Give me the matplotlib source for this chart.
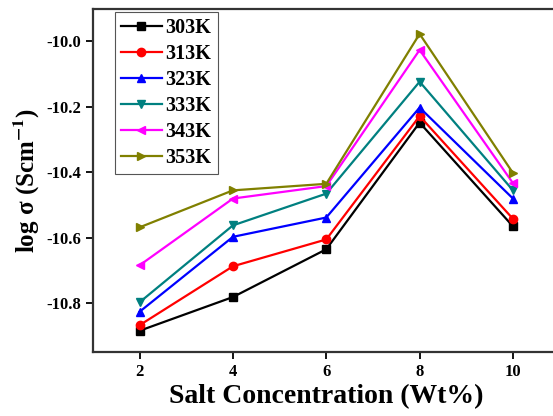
import matplotlib
matplotlib.use("Agg")
import matplotlib.pyplot as plt

plt.rcParams['font.family'] = ['Liberation Serif', 'DejaVu Serif']
plt.rcParams['font.weight'] = 'bold'
plt.rcParams['mathtext.fontset'] = 'stix'

salt = [2, 4, 6, 8, 10]
temps = ['303K', '313K', '323K', '333K', '343K', '353K']
log_sigma = {
    '303K': [-10.884, -10.781, -10.635, -10.248, -10.565],
    '313K': [-10.867, -10.687, -10.605, -10.228, -10.542],
    '323K': [-10.826, -10.597, -10.538, -10.202, -10.480],
    '333K': [-10.797, -10.562, -10.465, -10.123, -10.455],
    '343K': [-10.684, -10.480, -10.442, -10.026, -10.433],
    '353K': [-10.568, -10.455, -10.435, -9.977, -10.402],
}
colors = ['black', '#ff0000', '#0000ff', '#008080', '#ff00ff', '#808000']
markers = ['s', 'o', '^', 'v', '<', '>']

fig = plt.figure(figsize=(5.53, 4.16), dpi=100)
ax = fig.add_axes([0.168, 0.153, 0.844, 0.826])

for t, c, m in zip(temps, colors, markers):
    ax.plot(salt, log_sigma[t], color=c, marker=m, markersize=6, linewidth=1.6, label=t)

ax.set_xlim(1.0, 11.0)
ax.set_ylim(-10.95, -9.90)
ax.set_xticks(salt)
ax.set_yticks([-10.8, -10.6, -10.4, -10.2, -10.0])
ax.yaxis.set_major_formatter(matplotlib.ticker.FormatStrFormatter('%.1f'))
ax.tick_params(direction='out', length=5, width=1.3, labelsize=12)
for lab in ax.get_xticklabels() + ax.get_yticklabels():
    lab.set_fontweight('bold')
for s in ax.spines.values():
    s.set_linewidth(1.6)
    s.set_color('#333333')

ax.set_xlabel('Salt Concentration (Wt%)', fontsize=20, fontweight='bold', labelpad=3)
ax.set_ylabel(r'log σ (Scm$^{\mathbf{-1}}$)', fontsize=18, fontweight='bold', labelpad=3)

leg = ax.legend(loc='upper left', bbox_to_anchor=(0.048, 0.99), borderaxespad=0,
                handlelength=2.0, labelspacing=0.3, handletextpad=0.2,
                borderpad=0.3, fancybox=False, edgecolor='#555555', framealpha=1,
                prop={'weight': 'bold', 'size': 14.5})
leg.get_frame().set_linewidth(0.8)

fig.savefig('out.png', dpi=100)
